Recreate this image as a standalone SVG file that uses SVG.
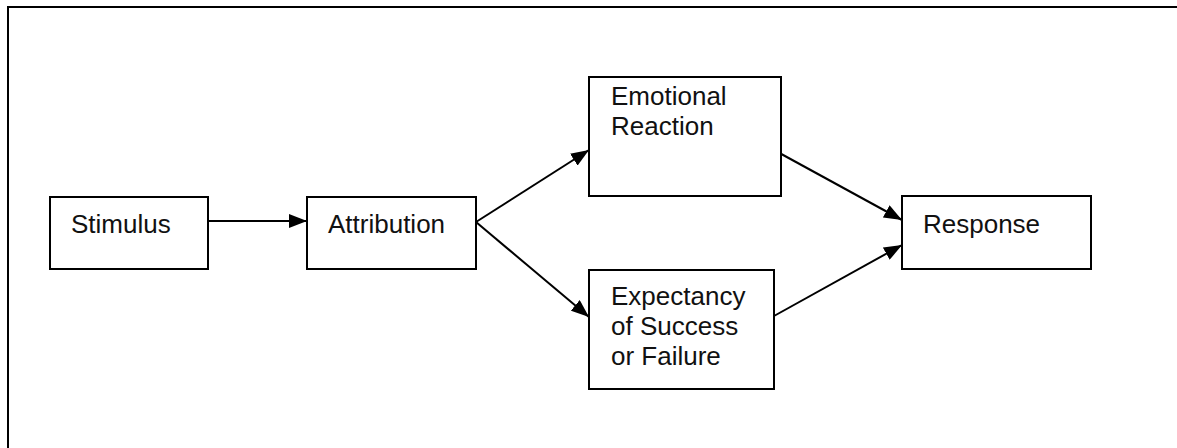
<svg xmlns="http://www.w3.org/2000/svg" width="1177" height="448" viewBox="0 0 1177 448">
<style>
.box{fill:#fff;stroke:#000;stroke-width:2}
.lbl{font-family:"Liberation Sans",Arial,sans-serif;font-size:26px;fill:#111}
.edge{stroke:#000;stroke-width:2;fill:none;marker-end:url(#ah)}
</style>
<defs>
<marker id="ah" viewBox="0 0 18 14" refX="18" refY="7" markerWidth="18" markerHeight="14" markerUnits="userSpaceOnUse" orient="auto">
<path d="M0,0 L18,7 L0,14 Z" fill="#000"/>
</marker>
</defs>
<rect width="1177" height="448" fill="#fff"/>
<path d="M8,448 V7 H1177" fill="none" stroke="#000" stroke-width="2"/>
<g id="connectors">
<line class="edge" x1="208" y1="221" x2="307" y2="221"/>
<line class="edge" x1="476" y1="222" x2="589" y2="150"/>
<line class="edge" x1="476" y1="222" x2="589" y2="317"/>
<line class="edge" x1="774" y1="150" x2="902" y2="220"/>
<line class="edge" x1="774" y1="316" x2="902" y2="245"/>
</g>
<g id="stimulus">
<rect class="box" x="50" y="197" width="158" height="72"/>
<text class="lbl" x="71" y="233">Stimulus</text>
</g>
<g id="attribution">
<rect class="box" x="307" y="197" width="169" height="72"/>
<text class="lbl" x="328" y="233">Attribution</text>
</g>
<g id="emotional">
<rect class="box" x="589" y="77" width="192" height="119"/>
<text class="lbl" x="611" y="105">Emotional</text>
<text class="lbl" x="611" y="135">Reaction</text>
</g>
<g id="expectancy">
<rect class="box" x="589" y="270" width="185" height="119"/>
<text class="lbl" x="611" y="305">Expectancy</text>
<text class="lbl" x="611" y="335">of Success</text>
<text class="lbl" x="611" y="365">or Failure</text>
</g>
<g id="response">
<rect class="box" x="902" y="196" width="189" height="73"/>
<text class="lbl" x="923" y="233">Response</text>
</g>
</svg>
